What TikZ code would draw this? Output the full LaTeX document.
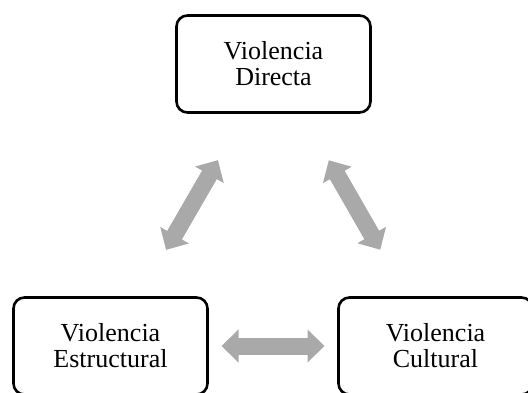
\documentclass[tikz,border=0pt]{standalone}
\usepackage{fontspec}
\setmainfont{Liberation Serif}
\usetikzlibrary{arrows.meta}
\definecolor{arrowgray}{HTML}{A9A9A9}
\begin{document}
\begin{tikzpicture}[x=1pt, y=-1pt,
  vbox/.style={draw, line width=2.6pt, rounded corners=11pt, minimum width=194pt,
    minimum height=97pt, inner sep=0pt, align=center,
    font=\fontsize{26}{26}\selectfont},
  biarrow/.style={draw=arrowgray, line width=17pt, shorten >=111pt, shorten <=111pt,
    {Triangle[width=32pt,length=17pt]}-{Triangle[width=32pt,length=17pt]}}]
  \clip (0,0) rectangle (528,393);
  \node[vbox] (D) at (273.5,64) {Violencia\\Directa};
  \node[vbox] (E) at (110.5,346) {Violencia\\Estructural};
  \node[vbox] (C) at (435.5,346) {Violencia\\Cultural};
  \draw[biarrow] (D.center) -- (E.center);
  \draw[biarrow] (D.center) -- (C.center);
  \draw[biarrow] (E.center) -- (C.center);
\end{tikzpicture}
\end{document}
